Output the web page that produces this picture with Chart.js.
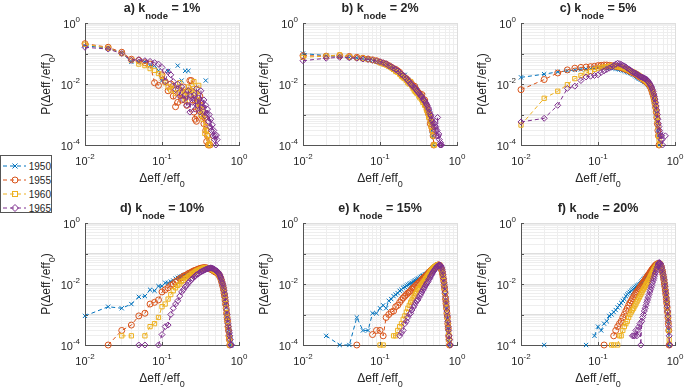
<!DOCTYPE html>
<html lang="en">
<head>
<meta charset="UTF-8">
<title>P(Δeff-/eff0) for different k_node</title>
<script src="https://cdn.jsdelivr.net/npm/chart.js"></script>
<style>
  html, body { margin: 0; padding: 0; background: #fff; }
  body {
    width: 685px; height: 391px; position: relative; overflow: hidden;
    font-family: "Liberation Sans", Arial, Helvetica, sans-serif; color: #262626;
  }
  canvas.panel { position: absolute; }
  .title {
    position: absolute; width: 200px; text-align: center; white-space: nowrap;
    font-weight: bold; font-size: 12.5px; line-height: 14px;
  }
  .title sub { font-size: 9.5px; vertical-align: -7px; line-height: 0; }
  .xlab, .ylab {
    position: absolute; width: 160px; text-align: center; white-space: nowrap;
    font-size: 12px; line-height: 14px;
  }
  .xlab sub, .ylab sub { font-size: 9px; vertical-align: -5px; line-height: 0; }
  .ylab { transform: rotate(-90deg); transform-origin: 50% 50%; }
  #legend {
    position: absolute; left: 0; top: 155px; width: 52px; height: 58px;
    border: 1px solid #555; background: #fff; box-sizing: border-box;
    font-size: 10px; padding-top: 3px;
  }
  #legend .row { height: 14px; display: flex; align-items: center; }
  #legend svg { margin-left: 1px; margin-right: 3px; }
</style>
</head>
<body>
<div id="legend"></div>
<script>
// bin centres of Δeff-/eff0
const xBins = [
  0.01, 0.02, 0.03, 0.04, 0.05, 0.06, 0.07, 0.08, 0.09, 0.10,
  0.11, 0.12, 0.13, 0.14, 0.15, 0.16, 0.17, 0.18, 0.19, 0.20,
  0.21, 0.22, 0.23, 0.24, 0.25, 0.26, 0.27, 0.28, 0.29, 0.30,
  0.31, 0.32, 0.33, 0.34, 0.35, 0.36, 0.37, 0.38, 0.39, 0.40,
  0.41, 0.42, 0.43, 0.44, 0.45, 0.46, 0.47, 0.48, 0.49, 0.50,
  0.51, 0.52, 0.53, 0.54, 0.55, 0.56, 0.57, 0.58, 0.59, 0.60,
  0.61, 0.62, 0.63, 0.64, 0.65, 0.66, 0.67, 0.68, 0.69, 0.70,
  0.71, 0.72, 0.73, 0.74, 0.75, 0.76, 0.77, 0.78, 0.79, 0.80,
  0.81, 0.82, 0.83, 0.84, 0.85, 0.86, 0.87, 0.88, 0.89, 0.90
];
const years = ['1950', '1955', '1960', '1965'];
const panelLetters = ['a)', 'b)', 'c)', 'd)', 'e)', 'f)'];
const kNode = ['1%', '2%', '5%', '10%', '15%', '20%'];
const xTickExps = [-2, -1, 0];
const yTickExps = [-4, -2, 0];

// a) k_node = 1%
const a1950 = [0.18, 0.15, 0.107, 0.053, 0.053, 0.053, 0.04, 0.04, 0.027, 0.013,
  null, 0.027, null, null, null, 0.04, null, 0.013, null, 0.027,
  null, 0.027, null, null, null, null, null, null, null, null,
  null, null, null, null, null, null, 0.013];
const a1955 = [0.21, 0.16, 0.11, 0.065, 0.06, 0.05, 0.045, 0.011, 0.009, 0.02,
  0.012, 0.006, 0.01, 0.004, 0.0018, 0.0025, 0.005, 0.003, 0.008, 0.004,
  0.002, 0.006, 0.013, 0.013, 0.003, 0.0012, 0.0007, 0.0006, 0.0025, 0.0015,
  0.004, 0.002, 0.0009, 0.0012, 0.0005, 0.0008, 0.0003, 0.00013, 0.0002, 0.0001,
  null, 0.0001];
const a1960 = [0.2, 0.15, 0.1, 0.06, 0.045, 0.04, 0.032, 0.028, 0.022, 0.018,
  0.011, 0.008, 0.0063, 0.009, 0.005, 0.007, 0.011, 0.006, 0.004, 0.003,
  0.0055, 0.008, 0.0045, 0.006, 0.007, 0.012, 0.005, 0.003, 0.0018, 0.009,
  0.002, 0.001, 0.0015, 0.0007, 0.0009, 0.00024, 0.0004, 0.0003, 0.0002, 0.0001,
  0.00015, 0.0001];
const a1965 = [0.16, 0.14, 0.1, 0.06, 0.063, 0.058, 0.055, 0.05, 0.045, 0.035,
  0.012, 0.025, 0.02, 0.012, 0.0065, 0.01, 0.004, 0.008, 0.003, 0.0045,
  0.002, 0.006, 0.0012, 0.004, 0.0025, 0.0043, 0.0015, 0.007, 0.002, 0.0035,
  0.0012, 0.006, 0.0025, 0.0018, 0.003, 0.0009, 0.002, 0.0011, 0.0015, 0.0006,
  0.001, 0.0004, 0.0007, 0.0003, 0.00046, 0.0002, 0.0003, 0.00015, 0.0002, 0.0001,
  0.00021, 0.00015];

// b) k_node = 2%
const b1950 = [0.1, 0.085, 0.08, 0.075, 0.072, 0.068, 0.065, 0.06, 0.055, 0.05,
  0.046, 0.044, 0.04, 0.035, 0.03, 0.028, 0.026, 0.022, 0.02, 0.019,
  0.02, 0.015, 0.014, 0.012, 0.011, 0.01, 0.0085, 0.007, 0.008, 0.0065,
  0.006, 0.0045, 0.005, 0.004, 0.0035, 0.0042, 0.003, 0.0022, 0.0025, 0.0018,
  0.0016, 0.0012, 0.0009, 0.0012, 0.0006, 0.0005, 0.0003, 0.0002, 0.0001];
const b1955 = [0.085, 0.082, 0.085, 0.08, 0.075, 0.07, 0.066, 0.062, 0.058, 0.052,
  0.048, 0.045, 0.04, 0.036, 0.032, 0.03, 0.027, 0.024, 0.02, 0.018,
  0.016, 0.015, 0.013, 0.012, 0.011, 0.0095, 0.008, 0.0085, 0.007, 0.006,
  0.0055, 0.005, 0.0045, 0.004, 0.0045, 0.003, 0.0028, 0.003, 0.0022, 0.002,
  0.0015, 0.0012, 0.001, 0.0008, 0.0005, 0.0006, 0.0004, 0.0003, 0.0002, 0.0001];
const b1960 = [0.075, 0.082, 0.09, 0.078, 0.072, 0.07, 0.064, 0.06, 0.056, 0.05,
  0.046, 0.042, 0.038, 0.034, 0.03, 0.026, 0.024, 0.021, 0.018, 0.016,
  0.015, 0.013, 0.011, 0.01, 0.012, 0.0085, 0.007, 0.006, 0.0055, 0.005,
  0.0048, 0.004, 0.0035, 0.0042, 0.003, 0.0025, 0.0028, 0.002, 0.0022, 0.0015,
  0.0013, 0.0011, 0.0008, 0.0009, 0.0006, 0.0004, 0.0005, 0.0003, 0.0002, 0.0001,
  0.0001];
const b1965 = [0.058, 0.07, 0.075, 0.072, 0.07, 0.066, 0.064, 0.06, 0.057, 0.054,
  0.05, 0.046, 0.04, 0.037, 0.033, 0.03, 0.027, 0.024, 0.021, 0.019,
  0.017, 0.015, 0.013, 0.012, 0.01, 0.009, 0.0085, 0.0075, 0.007, 0.006,
  0.0055, 0.005, 0.0045, 0.004, 0.0038, 0.0032, 0.003, 0.0028, 0.0025, 0.0022,
  0.002, 0.0017, 0.0015, 0.0012, 0.001, 0.0009, 0.0007, 0.0006, 0.0005, 0.0004,
  0.0005, 0.0003, 0.0004, 0.0002, 0.0003, 0.0008, 0.0002, 0.00023, 0.00015, 0.0001,
  0.00012, 0.0001, 0.0001];

// c) k_node = 5%
const c1950 = [0.0165, 0.021, 0.025, 0.027, 0.029, 0.03, 0.031, 0.032, 0.033, 0.034,
  0.035, 0.035, 0.034, 0.034, 0.033, 0.033, 0.032, 0.031, 0.03, 0.029,
  0.028, 0.027, 0.026, 0.025, 0.024, 0.023, 0.022, 0.021, 0.02, 0.019,
  0.018, 0.017, 0.016, 0.015, 0.015, 0.014, 0.014, 0.013, 0.013, 0.012,
  0.012, 0.011, 0.011, 0.01, 0.0095, 0.009, 0.0085, 0.0075, 0.0065, 0.0055,
  0.0048, 0.004, 0.0032, 0.0026, 0.002, 0.0015, 0.0011, 0.0008, 0.0005, 0.0003,
  0.0002, 0.0001];
const c1955 = [0.0065, 0.014, 0.023, 0.029, 0.033, 0.035, 0.036, 0.037, 0.038, 0.04,
  0.041, 0.042, 0.042, 0.041, 0.04, 0.039, 0.038, 0.037, 0.036, 0.035,
  0.033, 0.032, 0.03, 0.029, 0.028, 0.026, 0.025, 0.024, 0.023, 0.022,
  0.021, 0.02, 0.019, 0.018, 0.017, 0.016, 0.016, 0.015, 0.014, 0.013,
  0.013, 0.012, 0.012, 0.011, 0.01, 0.0095, 0.009, 0.008, 0.007, 0.006,
  0.0052, 0.0044, 0.0036, 0.0029, 0.0023, 0.0017, 0.0012, 0.0008, 0.0005, 0.0003,
  0.0002, 0.0001];
const c1960 = [0.00045, 0.0034, 0.0058, 0.0095, 0.015, 0.019, 0.023, 0.026, 0.03, 0.033,
  0.035, 0.036, 0.037, 0.038, 0.039, 0.039, 0.038, 0.037, 0.036, 0.035,
  0.034, 0.033, 0.031, 0.03, 0.029, 0.027, 0.026, 0.025, 0.024, 0.023,
  0.022, 0.021, 0.02, 0.019, 0.018, 0.017, 0.016, 0.015, 0.015, 0.014,
  0.013, 0.013, 0.012, 0.011, 0.011, 0.01, 0.0092, 0.0083, 0.0073, 0.0063,
  0.0054, 0.0046, 0.0038, 0.003, 0.0024, 0.0018, 0.0013, 0.0009, 0.0006, 0.0004,
  0.0002, 0.00015, 0.0001];
const c1965 = [0.00057, 0.00075, 0.002, 0.0072, 0.0085, 0.013, 0.017, 0.018, 0.019, 0.02,
  0.024, 0.027, 0.03, 0.033, 0.036, 0.04, 0.045, 0.048, 0.046, 0.044,
  0.041, 0.039, 0.036, 0.033, 0.031, 0.029, 0.027, 0.025, 0.024, 0.023,
  0.022, 0.021, 0.02, 0.019, 0.018, 0.017, 0.017, 0.016, 0.016, 0.015,
  0.015, 0.014, 0.014, 0.013, 0.012, 0.011, 0.01, 0.0092, 0.0083, 0.0074,
  0.0065, 0.0056, 0.0047, 0.0039, 0.0032, 0.0025, 0.0019, 0.0014, 0.001, 0.0007,
  0.0005, 0.0004, 0.0003, 0.00025, 0.0002, 0.00015, 0.0002, 0.00015, 0.0001, null,
  null, null, null, null, 0.0002];

// d) k_node = 10%
const d1950 = [0.0009, 0.0018, 0.0016, 0.0022, 0.0038, 0.004, 0.0065, 0.006, 0.0085, 0.0085,
  0.011, 0.011, 0.012, 0.013, 0.015, 0.016, 0.017, 0.018, 0.019, 0.02,
  0.021, 0.022, 0.023, 0.024, 0.025, 0.026, 0.027, 0.028, 0.029, 0.03,
  0.031, 0.031, 0.032, 0.032, 0.033, 0.033, 0.033, 0.033, 0.032, 0.032,
  0.031, 0.031, 0.03, 0.03, 0.029, 0.028, 0.027, 0.026, 0.025, 0.025,
  0.024, 0.023, 0.022, 0.021, 0.02, 0.018, 0.016, 0.015, 0.013, 0.011,
  0.0095, 0.0078, 0.0063, 0.005, 0.0039, 0.003, 0.0023, 0.0017, 0.0012, 0.0009,
  0.0007, 0.0005, 0.0004, 0.0003, 0.00025, 0.0002, 0.00015, 0.0001, null, 0.0001];
const d1955 = [null, 0.0001, 0.0003, 0.00045, 0.0009, 0.0011, 0.0022, 0.0025, 0.003, 0.0055,
  0.0065, 0.0075, 0.009, 0.01, 0.012, 0.013, 0.015, 0.016, 0.018, 0.019,
  0.02, 0.022, 0.023, 0.024, 0.026, 0.027, 0.028, 0.029, 0.03, 0.031,
  0.032, 0.033, 0.033, 0.034, 0.034, 0.034, 0.034, 0.033, 0.033, 0.032,
  0.032, 0.031, 0.031, 0.03, 0.029, 0.028, 0.027, 0.026, 0.025, 0.025,
  0.024, 0.023, 0.022, 0.021, 0.02, 0.018, 0.017, 0.015, 0.013, 0.011,
  0.0095, 0.008, 0.0065, 0.005, 0.004, 0.003, 0.0022, 0.0016, 0.0011, 0.0008,
  0.0006, 0.0004, 0.0003, 0.0002, 0.00015, 0.0001];
const d1960 = [null, null, 0.0002, 0.0002, null, 0.0002, 0.0004, 0.0005, 0.0008, 0.0018,
  0.0022, 0.0032, 0.0045, 0.006, 0.0075, 0.009, 0.01, 0.012, 0.013, 0.015,
  0.016, 0.018, 0.019, 0.021, 0.022, 0.024, 0.025, 0.027, 0.028, 0.029,
  0.03, 0.031, 0.032, 0.033, 0.033, 0.034, 0.034, 0.034, 0.034, 0.033,
  0.033, 0.032, 0.032, 0.031, 0.03, 0.029, 0.028, 0.027, 0.026, 0.026,
  0.025, 0.024, 0.023, 0.022, 0.02, 0.019, 0.017, 0.015, 0.013, 0.0115,
  0.0098, 0.0082, 0.0067, 0.0053, 0.0041, 0.0031, 0.0023, 0.0016, 0.0011, 0.0008,
  0.0006, 0.0004, 0.0003, 0.0002, 0.00015, 0.0001];
const d1965 = [null, null, null, null, 0.0001, 0.0001, null, null, 0.0001, 0.00022,
  0.0004, 0.00045, 0.001, 0.0016, 0.0022, 0.0028, 0.004, 0.0055, 0.0065, 0.008,
  0.009, 0.011, 0.012, 0.014, 0.015, 0.017, 0.018, 0.02, 0.021, 0.022,
  0.024, 0.025, 0.026, 0.027, 0.028, 0.029, 0.03, 0.031, 0.032, 0.032,
  0.033, 0.033, 0.034, 0.033, 0.033, 0.032, 0.031, 0.03, 0.029, 0.028,
  0.027, 0.026, 0.025, 0.023, 0.022, 0.02, 0.018, 0.016, 0.014, 0.012,
  0.0105, 0.009, 0.0075, 0.006, 0.0047, 0.0036, 0.0027, 0.002, 0.0014, 0.001,
  0.0007, 0.0005, 0.0004, 0.0003, 0.00025, 0.0002, 0.00015, 0.0001, 0.0001, 0.0001];

// e) k_node = 15%
const e1950 = [null, 0.0002, 0.0001, 0.0001, 0.0008, 0.0003, 0.0003, 0.0011, 0.0011, 0.0016,
  0.002, 0.0016, 0.0028, 0.0032, 0.004, 0.0045, 0.005, 0.006, 0.0065, 0.0075,
  0.008, 0.0088, 0.0095, 0.01, 0.0105, 0.011, 0.012, 0.0125, 0.013, 0.014,
  0.0145, 0.015, 0.016, 0.017, 0.018, 0.0185, 0.019, 0.02, 0.0205, 0.021,
  0.022, 0.023, 0.024, 0.025, 0.026, 0.027, 0.028, 0.029, 0.03, 0.031,
  0.033, 0.034, 0.036, 0.038, 0.039, 0.041, 0.042, 0.042, 0.04, 0.038,
  0.035, 0.032, 0.029, 0.025, 0.02, 0.016, 0.012, 0.009, 0.0065, 0.0045,
  0.0028, 0.002, 0.0015, 0.001, 0.0007, 0.0005, 0.00035, 0.00025, 0.00015, 0.0001];
const e1955 = [null, null, null, null, 0.0001, null, null, 0.00022, 0.0003, 0.0003,
  0.0002, 0.0008, 0.001, 0.0012, 0.0013, 0.0018, 0.002, 0.0025, 0.003, 0.0035,
  0.004, 0.0045, 0.005, 0.0055, 0.006, 0.0068, 0.0075, 0.008, 0.009, 0.0095,
  0.0105, 0.011, 0.012, 0.013, 0.014, 0.015, 0.016, 0.017, 0.018, 0.019,
  0.02, 0.022, 0.023, 0.025, 0.026, 0.028, 0.029, 0.031, 0.032, 0.034,
  0.035, 0.036, 0.038, 0.039, 0.04, 0.041, 0.042, 0.042, 0.041, 0.039,
  0.036, 0.033, 0.03, 0.026, 0.021, 0.017, 0.013, 0.0095, 0.007, 0.005,
  0.0032, 0.0023, 0.0016, 0.0011, 0.0008, 0.0005, 0.00035, 0.0002, 0.00015, 0.0001];
const e1960 = [null, null, null, null, null, null, null, null, null, 0.0001,
  0.0001, null, null, null, 0.0002, 0.0002, 0.0003, 0.0004, 0.0005, 0.0007,
  0.0009, 0.0012, 0.0016, 0.002, 0.0025, 0.003, 0.0035, 0.004, 0.0048, 0.0055,
  0.0065, 0.007, 0.008, 0.009, 0.01, 0.011, 0.012, 0.013, 0.015, 0.016,
  0.018, 0.019, 0.021, 0.023, 0.025, 0.027, 0.029, 0.031, 0.033, 0.034,
  0.036, 0.037, 0.038, 0.04, 0.041, 0.042, 0.043, 0.043, 0.042, 0.04,
  0.037, 0.034, 0.031, 0.027, 0.022, 0.018, 0.014, 0.01, 0.0075, 0.0052,
  0.0035, 0.0025, 0.0017, 0.0012, 0.0008, 0.0006, 0.0004, 0.00025, 0.00015, 0.0001];
const e1965 = [null, null, null, null, null, null, null, null, null, null,
  null, null, null, null, null, null, null, 0.0002, 0.00025, 0.0003,
  0.0005, 0.0006, 0.0008, 0.001, 0.0011, 0.0014, 0.0017, 0.002, 0.0024, 0.0028,
  0.003, 0.0036, 0.0042, 0.0048, 0.0055, 0.0062, 0.007, 0.008, 0.009, 0.01,
  0.011, 0.012, 0.014, 0.015, 0.017, 0.019, 0.021, 0.023, 0.025, 0.027,
  0.029, 0.031, 0.033, 0.035, 0.037, 0.039, 0.04, 0.041, 0.042, 0.042,
  0.041, 0.038, 0.034, 0.03, 0.025, 0.02, 0.015, 0.011, 0.008, 0.0055,
  0.0038, 0.0027, 0.0019, 0.0013, 0.0009, 0.0006, 0.0004, 0.0003, 0.0002, 0.00015,
  0.0001, 0.0001];

// f) k_node = 20%
const f1950 = [null, 0.0001, null, null, null, null, 0.0001, null, 0.0002, 0.0004,
  0.0003, 0.0005, 0.0006, 0.0009, 0.001, 0.0012, 0.0014, 0.0017, 0.002, 0.0024,
  0.0028, 0.0032, 0.004, 0.0045, 0.005, 0.0055, 0.006, 0.0065, 0.007, 0.0075,
  0.008, 0.0085, 0.009, 0.0095, 0.01, 0.011, 0.012, 0.013, 0.014, 0.015,
  0.016, 0.017, 0.018, 0.019, 0.02, 0.021, 0.022, 0.024, 0.025, 0.027,
  0.029, 0.031, 0.033, 0.035, 0.037, 0.039, 0.041, 0.042, 0.043, 0.044,
  0.045, 0.045, 0.044, 0.042, 0.039, 0.035, 0.031, 0.027, 0.023, 0.019,
  0.016, 0.013, 0.011, 0.009, 0.007, 0.0055, 0.004, 0.003, 0.0022, 0.0015,
  0.001, 0.0006, 0.0003, 0.0001];
const f1955 = [null, null, null, null, null, null, null, null, null, null,
  null, 0.0001, null, null, null, 0.0002, 0.0003, 0.0004, 0.0005, 0.0006,
  0.0008, 0.001, 0.0013, 0.0016, 0.002, 0.0024, 0.0028, 0.0033, 0.0038, 0.0044,
  0.005, 0.0056, 0.0062, 0.007, 0.0078, 0.0086, 0.0095, 0.0105, 0.0115, 0.0125,
  0.014, 0.015, 0.0165, 0.018, 0.0195, 0.021, 0.023, 0.025, 0.027, 0.029,
  0.031, 0.033, 0.035, 0.037, 0.039, 0.041, 0.043, 0.044, 0.045, 0.046,
  0.047, 0.047, 0.046, 0.044, 0.041, 0.037, 0.033, 0.028, 0.024, 0.02,
  0.016, 0.013, 0.01, 0.008, 0.006, 0.0045, 0.0033, 0.0024, 0.0017, 0.0012,
  0.0008, 0.0005, 0.0003, 0.0001];
const f1960 = [null, null, null, null, null, null, null, null, null, null,
  null, null, null, null, 0.0001, 0.0001, null, 0.0001, 0.0002, 0.0002,
  0.0003, 0.0004, 0.0005, 0.0006, 0.0008, 0.001, 0.0012, 0.0014, 0.0016, 0.0019,
  0.0022, 0.0026, 0.003, 0.0035, 0.004, 0.0046, 0.0052, 0.006, 0.0068, 0.0076,
  0.0085, 0.0095, 0.0106, 0.0118, 0.013, 0.0145, 0.016, 0.018, 0.02, 0.022,
  0.024, 0.026, 0.029, 0.031, 0.034, 0.036, 0.039, 0.041, 0.043, 0.045,
  0.046, 0.047, 0.047, 0.046, 0.043, 0.039, 0.035, 0.03, 0.025, 0.021,
  0.017, 0.014, 0.011, 0.0085, 0.0065, 0.005, 0.0037, 0.0027, 0.0019, 0.0013,
  0.0009, 0.0006, 0.0003, 0.00015, 0.0001];
const f1965 = [null, null, null, null, null, null, null, null, null, null,
  null, null, null, null, null, null, null, null, null, null,
  null, null, null, null, null, null, null, 0.0002, 0.0002, 0.0002,
  0.0003, 0.0002, 0.0003, 0.0004, 0.0005, 0.0001, 0.0006, 0.0008, 0.001, 0.0013,
  0.0016, 0.002, 0.0025, 0.003, 0.0037, 0.0045, 0.0055, 0.0065, 0.0078, 0.009,
  0.011, 0.013, 0.015, 0.018, 0.021, 0.024, 0.028, 0.032, 0.037, 0.042,
  0.047, 0.05, 0.05, 0.048, 0.045, 0.04, 0.035, 0.03, 0.025, 0.021,
  0.017, 0.014, 0.011, 0.0085, 0.0065, 0.005, 0.0037, 0.0027, 0.0019, 0.0013,
  0.0009, 0.0006, 0.0004, 0.0002, 0.0001, 0.0001];

const panelSeries = [
  [a1950, a1955, a1960, a1965],
  [b1950, b1955, b1960, b1965],
  [c1950, c1955, c1960, c1965],
  [d1950, d1955, d1960, d1965],
  [e1950, e1955, e1960, e1965],
  [f1950, f1955, f1960, f1965]
];

// styles
const seriesColors = ['#0072BD', '#D95319', '#EDB120', '#7E2F8E'];
const seriesMarkers = ['crossRot', 'circle', 'rect', 'rectRot'];
const gridMajor = '#dedede';
const gridMinor = '#eeeeee';
const axisColor = '#555555';
const textColor = '#262626';
const FONT = '"Liberation Sans", Arial, Helvetica, sans-serif';

const PLOT_W = 154, PLOT_H = 122;
const panelPos = [[85, 23], [303, 23], [521, 23], [85, 223], [303, 223], [521, 223]];
const PAD = { left: 50, top: 20, right: 24, bottom: 48 };

function logTicks(lo, hi) {
  const t = [];
  for (let e = lo; e < hi; e++) {
    for (let m = 1; m < 10; m++) t.push({ value: m * Math.pow(10, e) });
  }
  t.push({ value: Math.pow(10, hi) });
  return t;
}
function isDecade(v) {
  const l = Math.log10(v);
  return Math.abs(l - Math.round(l)) < 1e-6;
}
const gridColor = c => (c.tick && isDecade(c.tick.value)) ? gridMajor : gridMinor;

// 10^n tick labels and small inward tick marks, MATLAB style
function drawPow(ctx, x, baseline, exp, align) {
  const base = '10', sup = String(exp);
  ctx.font = '11px ' + FONT;
  const wb = ctx.measureText(base).width;
  ctx.font = '8px ' + FONT;
  const ws = ctx.measureText(sup).width;
  const x0 = align === 'center' ? x - (wb + ws) / 2 : x - wb - ws;
  ctx.textAlign = 'left';
  ctx.textBaseline = 'alphabetic';
  ctx.font = '11px ' + FONT;
  ctx.fillText(base, x0, baseline);
  ctx.font = '8px ' + FONT;
  ctx.fillText(sup, x0 + wb, baseline - 6);
}
const powTicks = {
  id: 'powTicks',
  afterDraw(chart) {
    const { ctx, chartArea: ca, scales: { x, y } } = chart;
    ctx.save();
    ctx.strokeStyle = axisColor;
    ctx.lineWidth = 1;
    ctx.beginPath();
    [-2, -1, 0].forEach(e => {
      const px = Math.round(x.getPixelForValue(Math.pow(10, e))) + 0.5;
      ctx.moveTo(px, ca.bottom); ctx.lineTo(px, ca.bottom - 3);
    });
    [-4, -3, -2, -1, 0].forEach(e => {
      const py = Math.round(y.getPixelForValue(Math.pow(10, e))) + 0.5;
      ctx.moveTo(ca.left, py); ctx.lineTo(ca.left + 3, py);
    });
    ctx.stroke();
    ctx.fillStyle = textColor;
    xTickExps.forEach(e => drawPow(ctx, x.getPixelForValue(Math.pow(10, e)), ca.bottom + 20, e, 'center'));
    yTickExps.forEach(e => drawPow(ctx, ca.left - 5, y.getPixelForValue(Math.pow(10, e)) + 5, e, 'right'));
    ctx.restore();
  }
};

function makeChart(canvas, p) {
  const datasets = panelSeries[p].map((arr, j) => ({
    label: years[j],
    data: arr.map((v, i) => ({ x: xBins[i], y: v })),
    borderColor: seriesColors[j],
    backgroundColor: 'rgba(0,0,0,0)',
    borderWidth: 1,
    borderDash: [4, 3],
    pointStyle: seriesMarkers[j],
    pointRadius: 3,
    pointBorderWidth: 1,
    pointBorderColor: seriesColors[j],
    pointBackgroundColor: 'rgba(0,0,0,0)',
    spanGaps: false,
    tension: 0,
    clip: false,
    order: 3 - j
  }));
  return new Chart(canvas, {
    type: 'line',
    data: { datasets },
    plugins: [powTicks],
    options: {
      responsive: false,
      animation: false,
      events: [],
      layout: { autoPadding: false, padding: PAD },
      plugins: { legend: { display: false }, tooltip: { enabled: false } },
      scales: {
        x: {
          type: 'logarithmic', min: 0.01, max: 1,
          afterBuildTicks: s => { s.ticks = logTicks(-2, 0); },
          ticks: { display: false },
          grid: { drawTicks: false, color: gridColor, lineWidth: 1 },
          border: { display: true, color: axisColor, width: 1 }
        },
        y: {
          type: 'logarithmic', min: 1e-4, max: 1,
          afterBuildTicks: s => { s.ticks = logTicks(-4, 0); },
          ticks: { display: false },
          grid: { drawTicks: false, color: gridColor, lineWidth: 1 },
          border: { display: true, color: axisColor, width: 1 }
        }
      }
    }
  });
}

panelPos.forEach(([left, top], p) => {
  const cv = document.createElement('canvas');
  cv.className = 'panel';
  cv.width = PLOT_W + PAD.left + PAD.right;
  cv.height = PLOT_H + PAD.top + PAD.bottom;
  cv.style.left = (left - PAD.left) + 'px';
  cv.style.top = (top - PAD.top) + 'px';
  document.body.appendChild(cv);
  makeChart(cv, p);

  const cx = left + PLOT_W / 2;
  const title = document.createElement('div');
  title.className = 'title';
  title.innerHTML = panelLetters[p] + ' k<sub>node</sub> = ' + kNode[p];
  title.style.left = (cx - 100) + 'px';
  title.style.top = (top - 22) + 'px';
  document.body.appendChild(title);

  const xl = document.createElement('div');
  xl.className = 'xlab';
  xl.innerHTML = '&Delta;eff<sub>-</sub>/eff<sub>0</sub>';
  xl.style.left = (cx - 80) + 'px';
  xl.style.top = (top + PLOT_H + 26) + 'px';
  document.body.appendChild(xl);

  const yl = document.createElement('div');
  yl.className = 'ylab';
  yl.innerHTML = 'P(&Delta;eff<sub>-</sub>/eff<sub>0</sub>)';
  yl.style.left = (left - 39 - 80) + 'px';
  yl.style.top = (top + PLOT_H / 2 - 7) + 'px';
  document.body.appendChild(yl);
});

// legend
const markerSvg = [
  c => `<line x1="10.5" y1="2.5" x2="15.5" y2="7.5" stroke="${c}"/><line x1="15.5" y1="2.5" x2="10.5" y2="7.5" stroke="${c}"/>`,
  c => `<circle cx="13" cy="5" r="3" fill="none" stroke="${c}"/>`,
  c => `<rect x="10.5" y="2.5" width="5" height="5" fill="none" stroke="${c}"/>`,
  c => `<polygon points="13,1.5 16.5,5 13,8.5 9.5,5" fill="none" stroke="${c}"/>`
];
const legend = document.getElementById('legend');
years.forEach((yr, j) => {
  const c = seriesColors[j];
  const row = document.createElement('div');
  row.className = 'row';
  row.innerHTML = `<svg width="26" height="10"><line x1="1" y1="5" x2="25" y2="5" stroke="${c}" stroke-dasharray="4,3"/>${markerSvg[j](c)}</svg><span>${yr}</span>`;
  legend.appendChild(row);
});
</script>
</body>
</html>
